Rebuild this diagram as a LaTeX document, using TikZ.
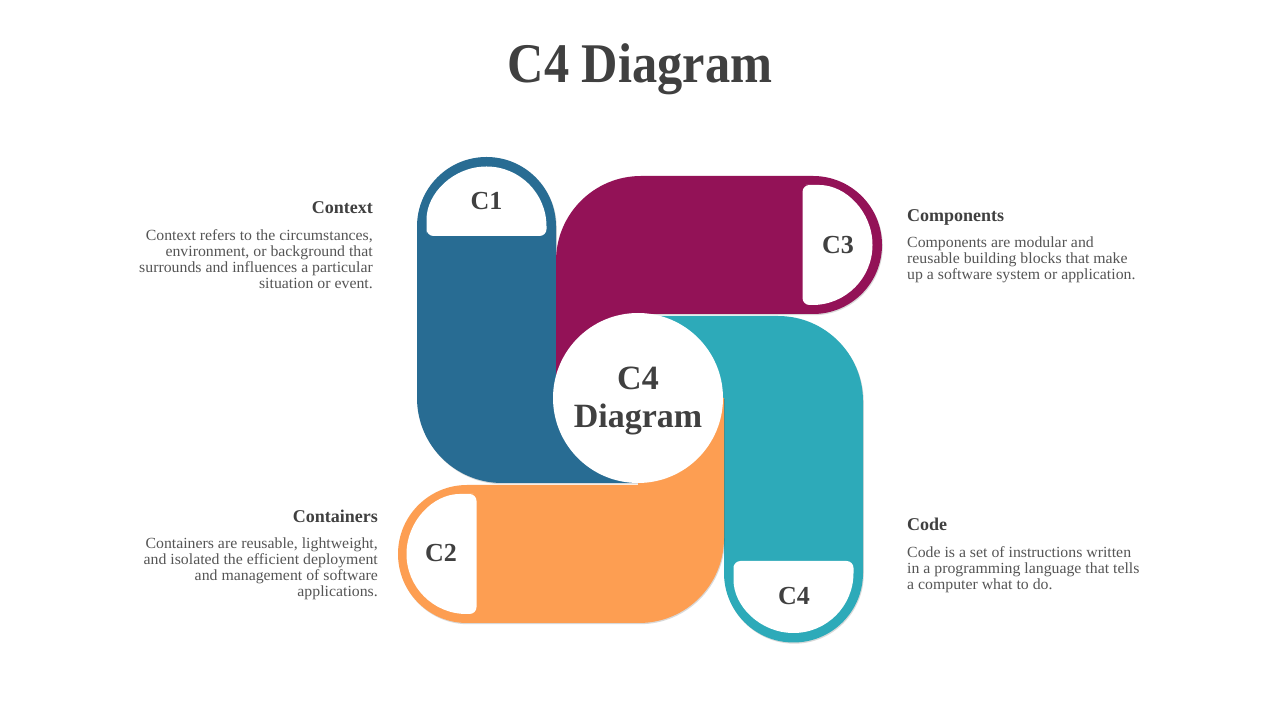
\documentclass[tikz,border=0pt]{standalone}
\usepackage{fontspec}
\setmainfont{Liberation Serif}
\newfontfamily\titlefont[FakeStretch = 0.9]{Liberation Serif}
\newfontfamily\bodyfont[FakeStretch = 1.02]{Liberation Serif}
\usetikzlibrary{shadows}

\definecolor{cblue}{RGB}{40,108,147}
\definecolor{cmag}{RGB}{147,18,87}
\definecolor{cteal}{RGB}{45,170,185}
\definecolor{corange}{RGB}{253,158,82}
\definecolor{ctext}{RGB}{64,64,64}
\definecolor{cbody}{RGB}{85,85,85}

\tikzset{
	title/.style = {font = \titlefont\fontsize{56}{64}\selectfont\bfseries, text = ctext, inner sep = 0pt},
	heading/.style = {font = \fontsize{18}{20}\selectfont\bfseries, text = ctext, inner sep = 0pt},
	body/.style = {font = \bodyfont\fontsize{15.5}{16}\selectfont, text = cbody, inner sep = 0pt},
	tag/.style = {font = \fontsize{26}{30}\selectfont\bfseries, text = ctext, inner sep = 0pt},
	faint/.style = {drop shadow = {shadow xshift = 0.8pt, shadow yshift = -1.2pt, opacity = 0.15, fill = black}}
}

\begin{document}
\begin{tikzpicture}[x = 1pt, y = 1pt]

\useasboundingbox[fill = white] (0, 0) rectangle (1280, 720);

\node[title, anchor = base] (TT) at (640, 637) {C4 Diagram};

\fill[cblue, faint]
	(556, 493.5) arc[start angle = 0, end angle = 180, radius = 69.5]
	-- (417, 322) arc[start angle = 180, end angle = 270, radius = 85]
	-- (638, 237) -- (638, 322) -- (556, 322) -- cycle;

\fill[cmag, faint]
	(813, 406) arc[start angle = -90, end angle = 90, radius = 69]
	-- (641, 544) arc[start angle = 90, end angle = 180, radius = 85]
	-- (556, 322) -- (638, 322) -- (638, 406) -- cycle;

\fill[cteal, faint]
	(724, 147) arc[start angle = 180, end angle = 360, radius = 69.5]
	-- (863, 319) arc[start angle = 0, end angle = 90, radius = 85]
	-- (638, 404) -- (638, 322) -- (724, 322) -- cycle;

\fill[corange, faint]
	(467, 235) arc[start angle = 90, end angle = 270, radius = 69]
	-- (639, 97) arc[start angle = -90, end angle = 0, radius = 85]
	-- (724, 322) -- (638, 322) -- (638, 235) -- cycle;

\fill[white] (426.5, 493.5) arc[start angle = 180, end angle = 0, radius = 60]
	[rounded corners = 7pt] -- (546.5, 484) -- (426.5, 484) -- cycle;
\fill[white] (812.5, 535) arc[start angle = 90, end angle = -90, radius = 60]
	[rounded corners = 7pt] -- (802.5, 415) -- (802.5, 535) -- cycle;
\fill[white] (466.5, 226) arc[start angle = 90, end angle = 270, radius = 60]
	[rounded corners = 7pt] -- (476.5, 106) -- (476.5, 226) -- cycle;
\fill[white] (733.5, 147) arc[start angle = 180, end angle = 360, radius = 60]
	[rounded corners = 7pt] -- (853.5, 159) -- (733.5, 159) -- cycle;

\node[tag] (CA) at (486.5, 519) {C1};
\node[tag] (CC) at (838, 475) {C3};
\node[tag] (CB) at (441, 167) {C2};
\node[tag] (CD) at (794, 124) {C4};

\node[circle, fill = white, minimum size = 170pt, inner sep = 0pt] (CM) at (638, 322) {};
\node[tag, font = \fontsize{34}{38}\selectfont\bfseries, align = center, yshift = -3pt] (CT) at (CM) {C4\\Diagram};

\node[heading, anchor = base east] (HA) at (373, 506) {Context};
\node[body, anchor = north east, align = right] (BA) at (373, 491)
	{Context refers to the circumstances,\\environment, or background that\\surrounds and influences a particular\\situation or event.};

\node[heading, anchor = base east] (HB) at (378, 197) {Containers};
\node[body, anchor = north east, align = right] (BB) at (378, 182)
	{Containers are reusable, lightweight,\\and isolated the efficient deployment\\and management of software\\applications.};

\node[heading, anchor = base west] (HC) at (907, 498) {Components};
\node[body, anchor = north west, align = left] (BC) at (907, 483)
	{Components are modular and\\reusable building blocks that make\\up a software system or application.};

\node[heading, anchor = base west] (HD) at (907, 189) {Code};
\node[body, anchor = north west, align = left] (BD) at (907, 174)
	{Code is a set of instructions written\\in a programming language that tells\\a computer what to do.};

\end{tikzpicture}
\end{document}
